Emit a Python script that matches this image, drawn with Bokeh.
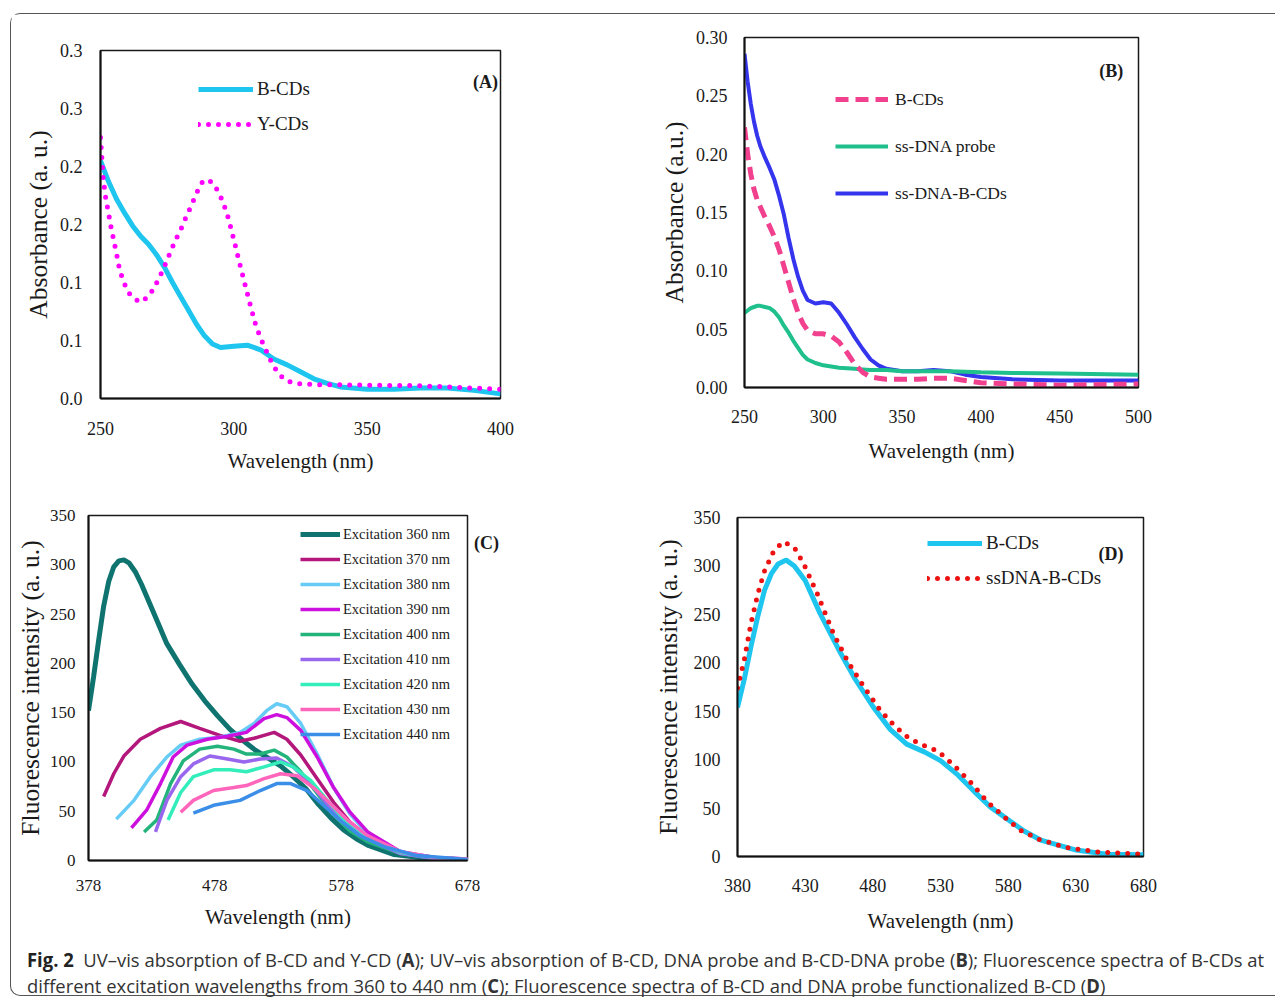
from bokeh.plotting import figure
from bokeh.models import Range1d, FixedTicker, Legend, LegendItem, Label, Div
from bokeh.layouts import column, row
from bokeh.embed import file_html
from bokeh.resources import INLINE

# ---------------- Panel A: UV-vis of B-CDs and Y-CDs ----------------
a_bcd_x = [250, 253, 256, 259, 262, 265, 268, 271, 274, 277, 280, 283, 286, 289, 292, 295,
           300, 305, 310, 315, 320, 325, 330, 335, 340, 350, 360, 370, 380, 390, 400]
a_bcd_y = [0.205, 0.187, 0.172, 0.160, 0.149, 0.140, 0.133, 0.124, 0.113, 0.100, 0.088,
           0.076, 0.064, 0.054, 0.047, 0.044, 0.045, 0.046, 0.042, 0.034, 0.029, 0.023,
           0.017, 0.013, 0.010, 0.008, 0.008, 0.009, 0.009, 0.007, 0.004]
a_ycd_x = [250, 251, 252, 253, 254, 255, 256, 257, 258, 260, 262, 265, 268, 270, 272, 274,
           276, 278, 280, 282, 284, 286, 288, 290, 292, 294, 296, 298, 300, 302, 304, 306,
           308, 310, 312, 314, 316, 319, 323, 330, 350, 370, 380, 400]
a_ycd_y = [0.225, 0.190, 0.172, 0.160, 0.147, 0.136, 0.125, 0.113, 0.105, 0.093, 0.087,
           0.083, 0.088, 0.095, 0.104, 0.114, 0.125, 0.136, 0.145, 0.156, 0.166, 0.177,
           0.186, 0.189, 0.186, 0.179, 0.169, 0.155, 0.137, 0.118, 0.100, 0.082, 0.065,
           0.052, 0.042, 0.032, 0.024, 0.016, 0.013, 0.012, 0.0115, 0.011, 0.010, 0.008]
a_yticks = [0.0, 0.05, 0.10, 0.15, 0.20, 0.25, 0.30]
a_ytick_labels = ["0.0", "0.1", "0.1", "0.2", "0.2", "0.3", "0.3"]
a_xticks = [250, 300, 350, 400]

# ---------------- Panel B: UV-vis of B-CDs, ss-DNA probe, ss-DNA-B-CDs ----------------
b_x = [250, 252, 254, 256, 258, 260, 263, 266, 269, 272, 275, 278, 281, 284, 287, 290,
       295, 300, 305, 310, 315, 320, 325, 330, 335, 340, 350, 360, 370, 380, 390, 400,
       420, 450, 500]
b_bcd_y = [0.223, 0.200, 0.183, 0.170, 0.161, 0.155, 0.146, 0.138, 0.129, 0.118, 0.104,
           0.090, 0.076, 0.064, 0.055, 0.049, 0.046, 0.046, 0.044, 0.039, 0.030, 0.020,
           0.013, 0.009, 0.008, 0.007, 0.007, 0.007, 0.008, 0.008, 0.006, 0.004, 0.003,
           0.002, 0.003]
b_probe_y = [0.064, 0.066, 0.068, 0.069, 0.070, 0.070, 0.069, 0.068, 0.065, 0.060, 0.053,
             0.047, 0.040, 0.034, 0.028, 0.024, 0.021, 0.019, 0.018, 0.017, 0.0165, 0.016,
             0.0155, 0.015, 0.015, 0.015, 0.014, 0.014, 0.014, 0.014, 0.0135, 0.013,
             0.0125, 0.012, 0.011]
b_dna_bcd_y = [0.286, 0.262, 0.243, 0.228, 0.216, 0.207, 0.197, 0.188, 0.178, 0.164, 0.148,
               0.128, 0.110, 0.095, 0.083, 0.075, 0.072, 0.073, 0.072, 0.064, 0.054, 0.043,
               0.033, 0.024, 0.019, 0.016, 0.014, 0.014, 0.015, 0.014, 0.011, 0.009, 0.007,
               0.006, 0.006]
b_yticks = [0.0, 0.05, 0.10, 0.15, 0.20, 0.25, 0.30]
b_ytick_labels = ["0.00", "0.05", "0.10", "0.15", "0.20", "0.25", "0.30"]
b_xticks = [250, 300, 350, 400, 450, 500]

# ---------------- Panel C: fluorescence at excitation 360-440 nm ----------------
c_labels = ["Excitation 360 nm", "Excitation 370 nm", "Excitation 380 nm",
            "Excitation 390 nm", "Excitation 400 nm", "Excitation 410 nm",
            "Excitation 420 nm", "Excitation 430 nm", "Excitation 440 nm"]
c360_x = [378, 382, 386, 390, 394, 398, 402, 406, 410, 415, 420, 425, 430, 440, 450, 460,
          470, 480, 490, 500, 510, 520, 530, 540, 550, 560, 570, 580, 590, 600, 620, 640,
          660, 678]
c360_y = [152, 186, 223, 258, 283, 298, 304, 305, 302, 293, 280, 265, 250, 220, 199, 179,
          162, 147, 133, 122, 112, 104, 96, 85, 73, 57, 43, 31, 22, 15, 6, 3, 1, 0.5]
c370_x = [390, 398, 406, 419, 435, 451, 466, 482, 498, 509, 525, 535, 546, 559, 572, 585,
          599, 625, 652, 678]
c370_y = [65, 88, 106, 123, 134, 141, 134, 127, 121, 124, 130, 123, 107, 83, 59, 39, 24, 7,
          3, 1]
c380_x = [400, 414, 427, 440, 451, 466, 482, 498, 509, 519, 527, 535, 546, 559, 572, 585,
          599, 625, 652, 678]
c380_y = [42, 61, 85, 105, 117, 123, 125, 130, 139, 152, 159, 156, 139, 108, 74, 47, 27, 8,
          3, 1]
c390_x = [412, 424, 435, 445, 456, 472, 488, 503, 517, 527, 535, 546, 559, 572, 585, 599,
          625, 652, 678]
c390_y = [33, 51, 78, 105, 117, 123, 126, 130, 144, 148, 145, 132, 105, 74, 49, 29, 9, 3,
          1.5]
c400_x = [422, 432, 443, 453, 466, 480, 493, 503, 514, 525, 535, 546, 559, 572, 585, 599,
          625, 652, 678]
c400_y = [29, 41, 78, 101, 113, 116, 113, 108, 108, 112, 105, 90, 68, 47, 30, 19, 7, 2, 1]
c410_x = [431, 440, 451, 461, 474, 488, 501, 514, 527, 540, 554, 567, 580, 599, 625, 652,
          678]
c410_y = [29, 61, 85, 98, 106, 103, 100, 103, 104, 95, 78, 57, 39, 22, 7, 2, 1]
c420_x = [441, 451, 461, 477, 490, 503, 517, 530, 540, 554, 567, 580, 599, 625, 652, 678]
c420_y = [41, 69, 85, 92, 92, 90, 95, 100, 95, 81, 61, 42, 24, 8, 3, 1]
c430_x = [451, 461, 477, 493, 503, 517, 530, 543, 556, 570, 583, 599, 625, 652, 678]
c430_y = [49, 61, 71, 74, 76, 83, 88, 86, 74, 57, 41, 25, 9, 3, 1.5]
c440_x = [461, 477, 498, 514, 527, 538, 551, 564, 577, 593, 612, 638, 678]
c440_y = [48, 56, 61, 71, 78, 78, 71, 56, 41, 25, 14, 5, 1]
c_yticks = [0, 50, 100, 150, 200, 250, 300, 350]
c_xticks = [378, 478, 578, 678]

# ---------------- Panel D: B-CDs vs ssDNA-B-CDs fluorescence ----------------
d_bcd_x = [380, 385, 390, 395, 400, 405, 410, 416, 422, 430, 441, 455, 467, 480, 493, 505,
           518, 530, 543, 555, 567, 580, 592, 604, 629, 653, 680]
d_bcd_y = [154, 183, 217, 248, 275, 292, 302, 306, 300, 285, 251, 213, 183, 155, 131, 116,
           108, 99, 84, 67, 51, 38, 26, 17, 7, 2.4, 1.7]
d_dna_x = [380, 385, 390, 395, 400, 407, 414, 422, 429, 439, 451, 462, 475, 486, 496, 506,
           515, 528, 540, 552, 565, 577, 589, 604, 624, 648, 680]
d_dna_y = [174, 203, 241, 271, 295, 316, 325, 319, 302, 271, 230, 200, 172, 150, 135, 123,
           116, 109, 94, 77, 56, 41, 27, 17, 9, 4.4, 2.4]
d_yticks = [0, 50, 100, 150, 200, 250, 300, 350]
d_xticks = [380, 430, 480, 530, 580, 630, 680]

SERIF = "Liberation Serif"
TXT = "#1a1a1a"


def make_fig(w, h, left, right, top, bottom, xr, yr):
    p = figure(width=w, height=h, x_range=Range1d(*xr), y_range=Range1d(*yr),
               output_backend="svg", toolbar_location=None,
               min_border_left=left, min_border_right=right,
               min_border_top=top, min_border_bottom=bottom)
    p.xgrid.visible = False
    p.ygrid.visible = False
    p.outline_line_color = "#1a1a1a"
    p.outline_line_width = 1.5
    p.background_fill_color = "white"
    p.border_fill_color = "white"
    return p


def style_axes(p, xticks, yticks, ylabels, xlabel, ylabel, tick_fs, xl_fs, yl_fs,
               x_std, x_lstd, y_std, y_lstd):
    xa, ya = p.xaxis[0], p.yaxis[0]
    xa.ticker = FixedTicker(ticks=xticks)
    ya.ticker = FixedTicker(ticks=yticks)
    if ylabels is not None:
        ya.major_label_overrides = {t: l for t, l in zip(yticks, ylabels)}
    for ax in (xa, ya):
        ax.axis_line_color = "#111111"
        ax.axis_line_width = 2
        ax.major_tick_line_color = None
        ax.minor_tick_line_color = None
        ax.major_tick_in = 0
        ax.major_tick_out = 0
        ax.minor_tick_in = 0
        ax.minor_tick_out = 0
        ax.major_label_text_font = SERIF
        ax.major_label_text_font_size = tick_fs
        ax.major_label_text_color = TXT
        ax.axis_label_text_font = SERIF
        ax.axis_label_text_font_style = "normal"
        ax.axis_label_text_color = TXT
    xa.axis_label = xlabel
    ya.axis_label = ylabel
    xa.axis_label_text_font_size = xl_fs
    ya.axis_label_text_font_size = yl_fs
    xa.major_label_standoff = x_std
    xa.axis_label_standoff = x_lstd
    ya.major_label_standoff = y_std
    ya.axis_label_standoff = y_lstd


def add_legend(p, items, loc, fs, gw, gh, spacing, standoff):
    leg = Legend(items=items, location=loc, label_text_font=SERIF,
                 label_text_font_size=fs, label_text_color=TXT,
                 glyph_width=gw, glyph_height=gh, label_height=gh,
                 spacing=spacing, label_standoff=standoff, padding=0, margin=0,
                 border_line_color=None, background_fill_alpha=0)
    p.add_layout(leg)


def add_tag(p, text, x, y):
    p.add_layout(Label(x=x, y=y, text=text, text_font=SERIF, text_font_size="18px",
                       text_font_style="bold", text_color=TXT, text_align="center",
                       text_baseline="middle"))


# ---------- A ----------
pA = make_fig(629, 471, 89, 140, 36, 87, (250, 400), (0, 0.30))
style_axes(pA, a_xticks, a_yticks, a_ytick_labels, "Wavelength (nm)", "Absorbance (a. u.)",
           "18px", "21px", "25.5px", 23, 11, 18, 4)
rA1 = pA.line(a_bcd_x, a_bcd_y, line_color="#1EC5EE", line_width=5)
rA2 = pA.line(a_ycd_x, a_ycd_y, line_color="#FF00FF", line_width=5, line_dash="0 10",
              line_cap="round")
add_legend(pA, [LegendItem(label="B-CDs", renderers=[rA1]),
                LegendItem(label="Y-CDs", renderers=[rA2])],
           (98, 262), "19px", 55, 24, 11, 4)
add_tag(pA, "(A)", 394.4, 0.273)

# ---------- B ----------
pB = make_fig(635, 471, 104, 137, 23, 98, (250, 500), (0, 0.30))
style_axes(pB, b_xticks, b_yticks, b_ytick_labels, "Wavelength (nm)", "Absorbance (a.u.)",
           "18px", "21px", "25.5px", 22, 13, 17, 4)
rB3 = pB.line(b_x, b_dna_bcd_y, line_color="#3535EE", line_width=4)
rB2 = pB.line(b_x, b_probe_y, line_color="#1FC08C", line_width=4)
rB1 = pB.line(b_x, b_bcd_y, line_color="#F0408E", line_width=5, line_dash="13 7")
add_legend(pB, [LegendItem(label="B-CDs", renderers=[rB1]),
                LegendItem(label="ss-DNA probe", renderers=[rB2]),
                LegendItem(label="ss-DNA-B-CDs", renderers=[rB3])],
           (91, 182), "17.5px", 53, 24, 23, 7)
add_tag(pB, "(B)", 482.7, 0.2717)

# ---------- C ----------
pC = make_fig(629, 450, 77, 173, 30, 75, (378, 678), (0, 350))
style_axes(pC, c_xticks, c_yticks, None, "Wavelength (nm)", "Fluorescence intensity (a. u.)",
           "17px", "21px", "25.5px", 19, 11, 13, 2)
c_series = [(c360_x, c360_y, "#0F7470", 5), (c370_x, c370_y, "#B3177C", 3.5),
            (c380_x, c380_y, "#66CCF6", 3.5), (c390_x, c390_y, "#CC10DD", 3.5),
            (c400_x, c400_y, "#22B47A", 3.5), (c410_x, c410_y, "#9966EE", 3.5),
            (c420_x, c420_y, "#33EDBB", 3.5), (c430_x, c430_y, "#FF66BB", 3.5),
            (c440_x, c440_y, "#3A8EE8", 3.5)]
c_items = []
for (xs, ys, col, lw), lab in zip(c_series, c_labels):
    r = pC.line(xs, ys, line_color=col, line_width=lw)
    c_items.append(LegendItem(label=lab, renderers=[r]))
add_legend(pC, c_items, (212, 116), "14.5px", 40, 20, 5, 3)

# "(C)" tag sits outside the plot frame, so it is drawn as a Div over the right border
c_tag = Div(text='<div style="font-family:\'Liberation Serif\';font-weight:bold;'
                 'font-size:18px;line-height:20px;color:#1a1a1a;text-align:center;">(C)</div>',
            width=40, height=20, margin=(48, 126, 0, -166))

# ---------- D ----------
pD = make_fig(635, 450, 97, 132, 32, 77, (380, 680), (0, 350))
style_axes(pD, d_xticks, d_yticks, None, "Wavelength (nm)", "Fluorescence intensity (a. u.)",
           "18px", "21px", "25.5px", 22, 14, 17, 8)
rD1 = pD.line(d_bcd_x, d_bcd_y, line_color="#1EC5EE", line_width=5)
rD2 = pD.line(d_dna_x, d_dna_y, line_color="#EE1111", line_width=5, line_dash="0 10",
              line_cap="round")
add_legend(pD, [LegendItem(label="B-CDs", renderers=[rD1]),
                LegendItem(label="ssDNA-B-CDs", renderers=[rD2])],
           (190, 266), "19px", 55, 24, 11, 4)
add_tag(pD, "(D)", 656, 312.7)

caption_html = (
    '<div style="font-family:\'Open Sans\',sans-serif;font-size:19px;line-height:26px;'
    'color:#333;white-space:nowrap;padding:12px 0 0 16px;">'
    '<div style="transform:scaleX(0.97);transform-origin:0 0;">'
    '<b style="color:#222">Fig.&nbsp;2</b>&nbsp; UV–vis absorption of B-CD and Y-CD (<b>A</b>); '
    'UV–vis absorption of B-CD, DNA probe and B-CD-DNA probe (<b>B</b>); Fluorescence spectra '
    'of B-CDs at<br>different excitation wavelengths from 360 to 440 nm (<b>C</b>); Fluorescence '
    'spectra of B-CD and DNA probe functionalized B-CD (<b>D</b>)</div></div>'
)
caption = Div(text=caption_html, width=1264, height=60, margin=0)

layout = column(row(column(pA), column(pB)), row(column(pC), c_tag, column(pD)), caption,
                margin=(13, 0, 0, 10),
                styles={"border": "1px solid #555", "border-right": "none",
                        "border-radius": "10px 0 0 10px"})

open("out.html", "w").write(file_html(layout, INLINE, title="Fig. 2"))
